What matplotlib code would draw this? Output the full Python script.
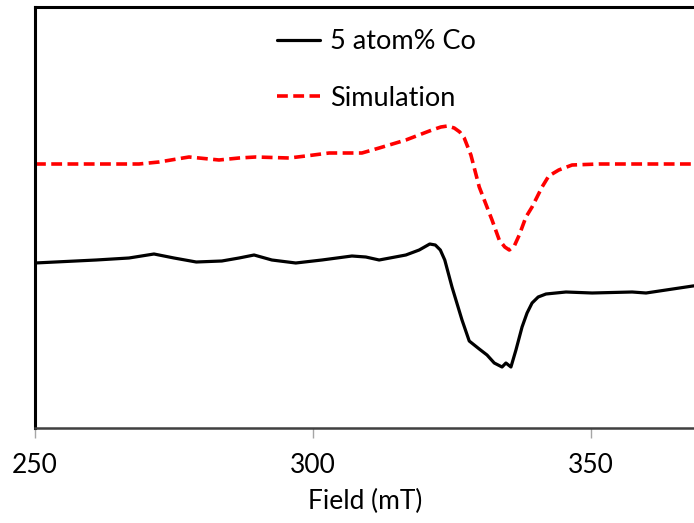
import matplotlib
matplotlib.use("Agg")
import matplotlib.pyplot as plt

plt.rcParams['font.family'] = ['Lato', 'DejaVu Sans']

# EPR spectrum: measured (5 atom% Co) and simulated, arbitrary intensity units
field_meas = [250.0, 261.0, 266.9, 271.4, 275.0, 279.0, 283.6, 286.7, 289.4, 292.6,
              296.9, 301.6, 307.0, 309.5, 311.9, 316.7, 319.1, 321.0, 322.0, 322.9,
              323.7, 325.0, 326.8, 328.1, 329.9, 331.3, 332.6, 334.0, 334.7, 335.6,
              336.5, 337.6, 338.5, 339.4, 340.5, 341.9, 345.5, 350.2, 357.4, 359.9,
              363.5, 368.3, 370.0]
signal_meas = [165, 168, 170, 174, 170, 166, 167, 170, 173, 168,
               165, 168, 172, 171, 168, 173, 178, 184, 183, 178,
               168, 141, 108, 87, 79, 73, 65, 61, 65, 61,
               78, 101, 115, 125, 131, 134, 136, 135, 136, 135,
               138, 142, 143]

field_sim = [250.0, 257.9, 268.7, 272.3, 277.7, 283.1, 286.7, 289.7, 295.7, 298.7,
             302.9, 308.8, 311.9, 316.7, 321.4, 323.0, 324.2, 325.4, 326.4, 327.2,
             328.4, 329.9, 332.2, 333.5, 334.5, 335.3, 336.2, 337.1, 338.3, 339.4,
             341.2, 342.4, 344.2, 346.6, 351.4, 370.0]
signal_sim = [264, 264, 264, 266, 271, 268, 270, 271, 270, 272,
              275, 275, 280, 288, 298, 301, 302, 300, 296, 290,
              273, 241, 208, 188, 181, 178, 182, 193, 211, 221,
              241, 252, 258, 263, 264, 264]

x_ticks = [250, 300, 350]
x_label = "Field (mT)"
series_labels = ["5 atom% Co", "Simulation"]

W, H = 694, 523
fig = plt.figure(figsize=(W / 100, H / 100), dpi=100)
# axis spans 250-400 mT; the right part runs past the figure edge
left_px, top_px, bottom_px = 35, 7, 428
px_per_mT = 5.56
right_px = left_px + 150 * px_per_mT
ax = fig.add_axes([left_px / W, 1 - bottom_px / H,
                   (right_px - left_px) / W, (bottom_px - top_px) / H])

ax.plot(field_meas, signal_meas, color='black', lw=2.3, label=series_labels[0],
        solid_joinstyle='round', solid_capstyle='round')
ax.plot(field_sim, signal_sim, color='#ff0000', lw=2.6, label=series_labels[1],
        dashes=(3.0, 1.5))

ax.set_xlim(250, 400)
ax.set_ylim(0, bottom_px - top_px)
ax.set_xticks(x_ticks)
ax.set_yticks([])
ax.tick_params(axis='x', direction='out', length=7, width=1, color='#a6a6a6',
               labelsize=19, pad=11, labelcolor='black')
ax.set_xlabel(x_label, fontsize=19)
ax.xaxis.set_label_coords((365 - left_px) / (right_px - left_px),
                          (bottom_px - 489) / (bottom_px - top_px))

ax.spines['right'].set_visible(False)
ax.spines['left'].set_linewidth(2.2)
ax.spines['top'].set_linewidth(2.2)
ax.spines['bottom'].set_linewidth(1.8)
ax.spines['bottom'].set_color('#404040')

leg = ax.legend(loc='upper left', bbox_to_anchor=(277 / W, 1 - 29 / H),
                bbox_transform=fig.transFigure, frameon=False, fontsize=19.5,
                handlelength=1.6, handletextpad=0.35, labelspacing=1.17,
                borderpad=0, borderaxespad=0)

fig.savefig("out.png", dpi=100)
